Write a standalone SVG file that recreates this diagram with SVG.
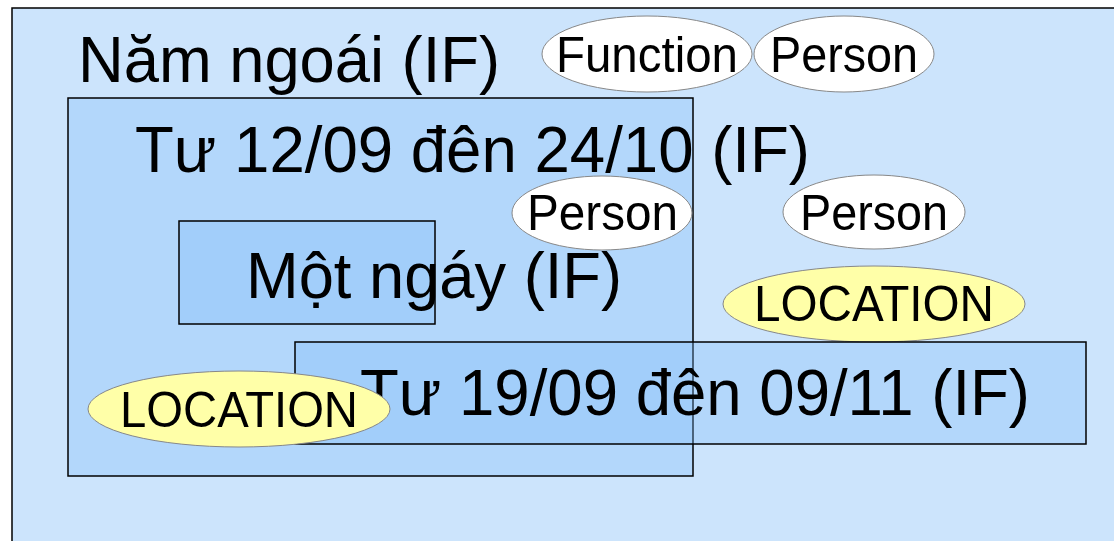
<svg xmlns="http://www.w3.org/2000/svg" width="1114" height="541" viewBox="0 0 1114 541">
<style>
.box{fill:#80bdf8;fill-opacity:0.33;stroke:#000;stroke-width:1.5}
.outer{fill:#cce4fc;stroke:#000;stroke-width:1.5}
.ell{stroke:#888;stroke-width:1}
.white{fill:#fff}
.yellow{fill:#ffffa8}
text{font-family:"Liberation Sans",Arial,sans-serif;fill:#000}
.big{font-size:64px}
.lbl{font-size:50px}
</style>
<rect width="1114" height="541" fill="#fff"/>
<g id="nam-ngoai">
<rect class="outer" x="12" y="8" width="1110" height="545"/>
<text class="big" x="78" y="82" textLength="422" lengthAdjust="spacingAndGlyphs" font-size="66">Năm ngoái (IF)</text>
</g>
<g id="function">
<ellipse class="ell white" cx="647" cy="54" rx="105" ry="38"/>
<text class="lbl" x="556" y="72" textLength="182" lengthAdjust="spacingAndGlyphs">Function</text>
</g>
<g id="person1">
<ellipse class="ell white" cx="844" cy="54" rx="90" ry="38"/>
<text class="lbl" x="770" y="72" textLength="148" lengthAdjust="spacingAndGlyphs">Person</text>
</g>
<g id="tu-12-09">
<rect class="box" x="68" y="98" width="625" height="378"/>
<text class="big" x="135" y="172" textLength="675" lengthAdjust="spacingAndGlyphs" font-size="62">Tư 12/09 đên 24/10 (IF)</text>
</g>
<g id="person2">
<ellipse class="ell white" cx="602" cy="213" rx="90" ry="37"/>
<text class="lbl" x="527" y="230" textLength="151" lengthAdjust="spacingAndGlyphs">Person</text>
</g>
<g id="person3">
<ellipse class="ell white" cx="874" cy="212" rx="91" ry="37"/>
<text class="lbl" x="800" y="230" textLength="148" lengthAdjust="spacingAndGlyphs">Person</text>
</g>
<g id="location1">
<ellipse class="ell yellow" cx="874" cy="304" rx="151" ry="38"/>
<text class="lbl" x="754" y="321" textLength="240" lengthAdjust="spacingAndGlyphs">LOCATION</text>
</g>
<g id="mot-ngay">
<rect class="box" x="179" y="221" width="256" height="103"/>
<text class="big" x="246" y="298" textLength="376" lengthAdjust="spacingAndGlyphs" font-size="62">Một ngáy (IF)</text>
</g>
<g id="tu-19-09">
<rect class="box" x="295" y="342" width="791" height="102"/>
<text class="big" x="360" y="415" textLength="670" lengthAdjust="spacingAndGlyphs" font-size="61">Tư 19/09 đên 09/11 (IF)</text>
</g>
<g id="location2">
<ellipse class="ell yellow" cx="239" cy="409" rx="151" ry="38"/>
<text class="lbl" x="120" y="427" textLength="238" lengthAdjust="spacingAndGlyphs">LOCATION</text>
</g>
<g id="connectors"></g>
</svg>
